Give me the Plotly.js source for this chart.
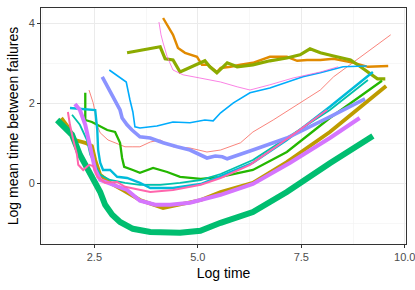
<!DOCTYPE html>
<html>
<head>
<meta charset="utf-8">
<script src="https://cdn.plot.ly/plotly-3.0.1.min.js"></script>
<style>html,body{margin:0;padding:0;background:#fff;}#chart{width:415px;height:290px;}</style>
</head>
<body>
<div id="chart"></div>
<script>
// Series data (log time, log mean time between failures)
const s01x = [2.37,2.47,2.52,2.54,2.64,2.83,3.00,3.24,3.43,3.60,3.85,4.09,4.40,4.81,5.22,5.55,6.03,6.33,6.82,7.47,7.96,8.28,9.11,9.66];
const s01y = [2.34,2.02,1.77,1.52,1.27,1.09,1.02,0.92,0.92,0.92,1.04,1.09,0.92,0.89,0.79,0.84,1.02,1.29,1.59,2.02,2.34,2.67,3.29,3.72];

const s02x = [4.16,4.28,4.40,4.52,4.69,4.98,5.10,5.24,5.46,5.55,5.79,6.03,6.33,6.74,7.15,7.40,7.64,7.96,8.28,8.77,9.11,9.60];
const s02y = [4.14,3.92,3.72,3.39,3.27,3.17,2.97,2.97,2.79,2.89,2.92,2.97,3.02,3.17,3.17,3.07,3.09,3.09,3.12,3.02,2.92,2.94];

const s03x = [1.70,1.86,2.03,2.28,2.44,2.52,2.64,2.88,3.19,3.60,4.16,4.57,5.07,5.55,6.33,7.15,8.19,9.55];
const s03y = [1.64,1.42,1.09,1.02,0.94,0.59,0.22,0.02,-0.16,-0.41,-0.61,-0.53,-0.41,-0.21,0.02,0.54,1.29,2.44];

const s04x = [3.29,4.09,4.21,4.40,4.57,4.86,5.17,5.29,5.46,5.71,5.95,6.33,6.74,7.15,7.47,7.71,7.96,8.28,8.69,8.93,9.34,9.53];
const s04y = [3.27,3.42,3.12,3.09,2.79,2.92,3.07,2.92,2.77,3.02,2.92,2.97,3.07,3.14,3.22,3.37,3.27,3.19,3.09,2.92,2.62,2.62];

const s05x = [2.28,2.28,2.28,2.44,2.64,2.81,3.00,3.12,3.17,3.22,3.43,3.60,3.92,4.26,4.57,5.07,5.55,6.33,7.15,8.19,9.45];
const s05y = [2.27,1.97,1.59,1.54,1.44,1.34,1.29,1.02,0.64,0.42,0.34,0.27,0.39,0.29,0.17,0.12,0.17,0.34,0.79,1.64,2.57];

const s06x = [1.60,1.79,1.96,2.15,2.35,2.52,2.64,2.76,2.93,3.12,3.43,3.85,4.21,4.57,5.06,5.55,6.33,7.15,8.19,9.23];
const s06y = [1.59,1.42,1.22,0.72,0.34,0.09,-0.21,-0.53,-0.78,-0.96,-1.13,-1.21,-1.23,-1.23,-1.18,-0.98,-0.71,-0.21,0.51,1.19];

const s07x = [1.96,2.15,2.32,2.40,2.52,2.64,2.88,3.24,3.60,4.09,4.57,5.07,5.55,6.33,7.15,8.19,9.11];
const s07y = [1.72,1.47,1.09,0.72,0.47,0.22,0.09,0.02,-0.03,-0.03,0.02,0.09,0.24,0.59,1.14,1.84,2.59];

const s08x = [1.91,2.20,2.52,2.57,2.59,2.64,2.71,2.88,3.05,3.29,3.60,3.85,4.40,5.07,5.55,6.33,7.15,8.19,9.23];
const s08y = [1.89,1.87,1.84,1.34,0.84,0.52,0.34,0.34,0.17,0.14,0.02,-0.11,-0.11,-0.01,0.19,0.52,1.09,1.92,2.79];

const s09x = [2.86,3.07,3.27,3.36,3.43,3.48,3.60,4.01,4.40,4.81,5.17,5.37,5.55,5.86,6.26,6.74,7.15,7.54,7.96,8.51,9.08];
const s09y = [2.84,2.69,2.54,2.09,1.79,1.42,1.39,1.44,1.54,1.52,1.59,1.57,1.77,2.02,2.27,2.39,2.54,2.67,2.77,2.92,2.94];

const s10x = [2.69,2.83,3.00,3.12,3.17,3.29,3.41,3.60,3.85,4.16,4.50,4.81,5.22,5.42,5.59,5.71,6.33,7.15,8.19,9.04];
const s10y = [2.67,2.39,2.09,1.84,1.64,1.47,1.34,1.17,1.14,1.02,0.92,0.84,0.64,0.69,0.67,0.62,0.84,1.14,1.67,2.12];

const s11x = [2.03,2.15,2.28,2.40,2.52,2.64,2.81,3.05,3.29,3.60,3.97,4.33,4.81,5.55,6.33,7.23,8.19,8.91];
const s11y = [1.99,1.84,1.47,0.92,0.34,0.09,0.02,-0.08,-0.16,-0.43,-0.53,-0.53,-0.48,-0.28,-0.01,0.52,1.14,1.64];

const s12x = [4.06,4.11,4.16,4.26,4.40,4.52,4.64,5.05,5.55,5.95,6.26,6.74,7.30,7.96,8.39];
const s12y = [4.04,3.72,3.52,3.17,2.84,2.77,2.72,2.64,2.54,2.42,2.34,2.47,2.64,2.79,2.92];

const s13x = [1.86,1.91,1.99,2.08,2.11,2.23,2.37,2.47,2.57,2.76,3.05,3.24,3.85,4.40,5.07,5.55,6.26,7.23,8.12];
const s13y = [1.79,1.47,1.09,0.72,0.47,0.34,0.47,0.44,0.17,0.02,0.04,-0.08,-0.21,-0.16,-0.03,0.14,0.47,1.17,1.84];

const seriesX = [s01x,s02x,s03x,s04x,s05x,s06x,s07x,s08x,s09x,s10x,s11x,s12x,s13x];
const seriesY = [s01y,s02y,s03y,s04y,s05y,s06y,s07y,s08y,s09y,s10y,s11y,s12y,s13y];
const colors = ["#F8766D","#E18A00","#BE9C00","#8CAB00","#24B700","#00BE70","#00C1AB","#00BBDA","#00ACFC","#8B93FF","#D575FE","#F962DD","#FF65AC"];
const widths = [0.9,2.4,3.8,3.2,2.3,6.0,1.8,2.4,1.6,3.6,4.0,0.8,2.0];

const xTickVals = [2.5,5.0,7.5,10.0];
const xTickText = ["2.5","5.0","7.5","10.0"];
const yTickVals = [0,2,4];
const yTickText = ["0","2","4"];

const traces = seriesX.map((xs,i)=>({
  x: xs, y: seriesY[i], type:"scatter", mode:"lines",
  line:{color:colors[i], width:widths[i]}, hoverinfo:"skip", showlegend:false
}));

const layout = {
  width:415, height:290,
  margin:{l:41, r:9, t:8, b:46},
  paper_bgcolor:"#fff", plot_bgcolor:"#fff",
  font:{family:"Liberation Sans, Arial, sans-serif"},
  xaxis:{
    range:[1.21,10.03], tickvals:xTickVals, ticktext:xTickText,
    showgrid:true, gridcolor:"#EBEBEB", gridwidth:1.1,
    minor:{tickvals:[1.25,3.75,6.25,8.75], showgrid:true, gridcolor:"#F2F2F2", gridwidth:0.6, ticks:""},
    zeroline:false, ticks:"outside", ticklen:3, tickcolor:"#333", tickwidth:1,
    tickfont:{size:11, color:"#4D4D4D"}, ticklabeloverflow:"allow",
    showline:true, linecolor:"#333", linewidth:1, mirror:true,
    title:{text:"Log time", font:{size:14, color:"#000"}, standoff:5}
  },
  yaxis:{
    range:[-1.51,4.39], tickvals:yTickVals, ticktext:yTickText,
    showgrid:true, gridcolor:"#EBEBEB", gridwidth:1.1,
    minor:{tickvals:[-1,1,3], showgrid:true, gridcolor:"#F2F2F2", gridwidth:0.6, ticks:""},
    zeroline:false, ticks:"outside", ticklen:3, tickcolor:"#333", tickwidth:1,
    tickfont:{size:11, color:"#4D4D4D"},
    showline:true, linecolor:"#333", linewidth:1, mirror:true,
    title:{text:"Log mean time between failures", font:{size:14, color:"#000"}, standoff:6}
  }
};

Plotly.newPlot("chart", traces, layout, {staticPlot:true, displayModeBar:false});
</script>
</body>
</html>
